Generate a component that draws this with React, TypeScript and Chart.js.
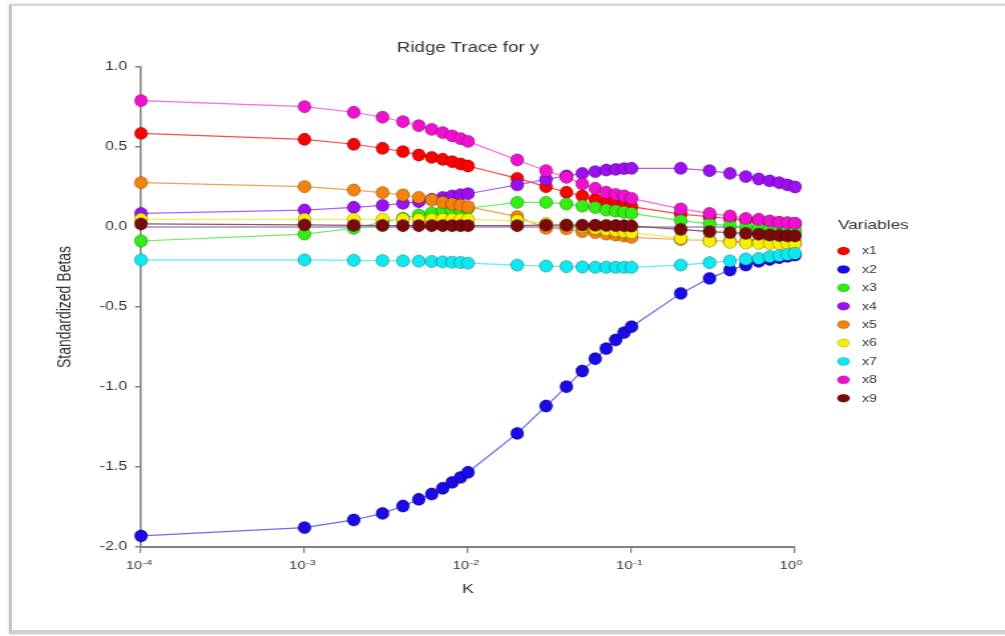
import React, { useEffect, useRef } from "react";
import { Chart, registerables } from "chart.js";

Chart.register(...registerables);

// ---------- data ----------
const kValues = [
  0.0001,
  0.001, 0.002, 0.003, 0.004, 0.005, 0.006, 0.007, 0.008, 0.009,
  0.01, 0.02, 0.03, 0.04, 0.05, 0.06, 0.07, 0.08, 0.09,
  0.1, 0.2, 0.3, 0.4, 0.5, 0.6, 0.7, 0.8, 0.9,
  1.0,
];

const seriesNames = ["x1", "x2", "x3", "x4", "x5", "x6", "x7", "x8", "x9"];

const x1 = [0.585, 0.548, 0.517, 0.492, 0.471, 0.45, 0.435, 0.423, 0.408, 0.394, 0.381, 0.304, 0.252, 0.217, 0.194, 0.173, 0.158, 0.148, 0.138, 0.127, 0.081, 0.064, 0.052, 0.043, 0.037, 0.032, 0.028, 0.024, 0.021];
const x2 = [-1.931, -1.879, -1.831, -1.79, -1.744, -1.702, -1.669, -1.633, -1.596, -1.565, -1.533, -1.29, -1.119, -0.998, -0.9, -0.823, -0.76, -0.706, -0.66, -0.623, -0.415, -0.321, -0.269, -0.238, -0.215, -0.203, -0.192, -0.183, -0.175];
const x3 = [-0.0875, -0.044, -0.008, 0.03, 0.055, 0.075, 0.088, 0.098, 0.106, 0.112, 0.117, 0.154, 0.154, 0.144, 0.131, 0.121, 0.106, 0.1, 0.092, 0.085, 0.04, 0.019, 0.008, -0.002, -0.008, -0.011, -0.014, -0.017, -0.02];
const x4 = [0.085, 0.106, 0.123, 0.135, 0.148, 0.158, 0.173, 0.185, 0.194, 0.202, 0.208, 0.263, 0.298, 0.319, 0.335, 0.346, 0.356, 0.36, 0.365, 0.367, 0.367, 0.352, 0.335, 0.315, 0.3, 0.288, 0.277, 0.263, 0.25];
const x5 = [0.277, 0.252, 0.231, 0.215, 0.2, 0.185, 0.169, 0.154, 0.144, 0.136, 0.127, 0.065, -0.008, -0.012, -0.029, -0.035, -0.044, -0.05, -0.056, -0.065, -0.078, -0.085, -0.09, -0.093, -0.095, -0.097, -0.098, -0.099, -0.1];
const x6 = [0.048, 0.048, 0.048, 0.048, 0.048, 0.047, 0.047, 0.047, 0.047, 0.046, 0.046, 0.04, 0.023, 0.012, 0.002, -0.008, -0.017, -0.023, -0.029, -0.035, -0.071, -0.088, -0.096, -0.1, -0.102, -0.103, -0.104, -0.104, -0.105];
const x7 = [-0.206, -0.206, -0.208, -0.21, -0.212, -0.214, -0.216, -0.218, -0.22, -0.222, -0.226, -0.238, -0.244, -0.248, -0.25, -0.252, -0.252, -0.252, -0.252, -0.252, -0.238, -0.223, -0.212, -0.2, -0.196, -0.185, -0.179, -0.171, -0.165];
const x8 = [0.79, 0.752, 0.717, 0.686, 0.658, 0.633, 0.61, 0.59, 0.569, 0.552, 0.535, 0.419, 0.352, 0.31, 0.269, 0.242, 0.217, 0.204, 0.194, 0.179, 0.113, 0.085, 0.069, 0.054, 0.048, 0.038, 0.029, 0.027, 0.023];
const x9 = [0.019, 0.013, 0.01, 0.009, 0.008, 0.008, 0.008, 0.008, 0.008, 0.008, 0.008, 0.008, 0.012, 0.012, 0.012, 0.011, 0.01, 0.009, 0.008, 0.006, -0.015, -0.029, -0.035, -0.04, -0.045, -0.05, -0.053, -0.055, -0.056];

const seriesValues = [x1, x2, x3, x4, x5, x6, x7, x8, x9];

const pointColors = ["#ff0000", "#1a0ae6", "#33ee11", "#9a10f0", "#f5820a", "#f8f000", "#10e8f0", "#f010d0", "#7a0a0a"];
const lineColors = ["#ff4a4a", "#6a6af5", "#66f055", "#b35cf5", "#f7a050", "#f5ee55", "#60f0f5", "#ff66f0", "#a05050"];

const zeroLineK = [0.0001, 1.0];
const zeroLineValues = [0, 0];

const xTickValues = [0.0001, 0.001, 0.01, 0.1, 1];
const xTickBase = "10";
const xTickExponents = ["-4", "-3", "-2", "-1", "0"];

const yMin = -2.0;
const yMax = 1.0;
const yStep = 0.5;

const chartTitle = "Ridge Trace for y";
const xTitle = "K";
const yTitle = "Standardized Betas";
const legendTitle = "Variables";

const FONT = "'Liberation Sans', Arial, Helvetica, sans-serif";
const TEXT = "#333333";
const AXIS = "#808080";

// The original picture is horizontally stretched; the canvas is drawn narrower and
// widened by CSS to reproduce that look.
const PAGE_W = 1005;
const PAGE_H = 636;
const CANVAS_W = 756;
const SX = PAGE_W / CANVAS_W;

const DOT_RX = 6.5 / SX;
const DOT_RY = 6.2;

// ---------- plugins ----------
const dotsPlugin = {
  id: "ellipseDots",
  afterDatasetsDraw(chart: any) {
    const ctx = chart.ctx;
    ctx.save();
    seriesNames.forEach((_, i) => {
      const meta = chart.getDatasetMeta(i);
      meta.data.forEach((pt: any) => {
        ctx.beginPath();
        ctx.ellipse(pt.x, pt.y, DOT_RX, DOT_RY, 0, 0, Math.PI * 2);
        ctx.fillStyle = pointColors[i];
        ctx.fill();
        ctx.lineWidth = 0.8;
        ctx.strokeStyle = "rgba(0,0,0,0.3)";
        ctx.stroke();
      });
    });
    ctx.restore();
  },
};

const xTickLabelPlugin = {
  id: "xTickLabels",
  afterDraw(chart: any) {
    const xs = chart.scales.x;
    const ctx = chart.ctx;
    ctx.save();
    ctx.fillStyle = TEXT;
    ctx.textBaseline = "middle";
    xTickValues.forEach((v, i) => {
      const px = xs.getPixelForValue(v);
      const y = xs.top + 19;
      ctx.font = `11px ${FONT}`;
      ctx.textAlign = "right";
      ctx.fillText(xTickBase, px + 0.8, y);
      ctx.font = `8px ${FONT}`;
      ctx.textAlign = "left";
      ctx.fillText(xTickExponents[i], px + 1.2, y - 3.5);
    });
    ctx.restore();
  },
};

const legendPlugin = {
  id: "sideLegend",
  afterDraw(chart: any) {
    const ctx = chart.ctx;
    const left = 838 / SX;
    ctx.save();
    ctx.fillStyle = TEXT;
    ctx.textBaseline = "middle";
    ctx.textAlign = "left";
    ctx.font = `13px ${FONT}`;
    ctx.fillText(legendTitle, left, 225);
    seriesNames.forEach((name, i) => {
      const cy = 251 + i * 18.4;
      ctx.beginPath();
      ctx.ellipse(843.5 / SX, cy, 6.2 / SX, 4.0, 0, 0, Math.PI * 2);
      ctx.fillStyle = pointColors[i];
      ctx.fill();
      ctx.strokeStyle = "rgba(0,0,0,0.25)";
      ctx.lineWidth = 0.7;
      ctx.stroke();
      ctx.fillStyle = TEXT;
      ctx.font = `10.5px ${FONT}`;
      ctx.fillText(name, 862 / SX, cy + 0.5);
    });
    ctx.restore();
  },
};

export default function App() {
  const canvasRef = useRef<HTMLCanvasElement | null>(null);

  useEffect(() => {
    const canvas = canvasRef.current;
    if (!canvas) return;

    const datasets: any[] = seriesNames.map((name, i) => ({
      label: name,
      data: kValues.map((k, j) => ({ x: k, y: seriesValues[i][j] })),
      borderColor: lineColors[i],
      borderWidth: 1.2,
      backgroundColor: pointColors[i],
      pointRadius: 0,
      pointHoverRadius: 0,
      tension: 0,
      fill: false,
      clip: false,
      order: 20 - i,
    }));
    datasets.push({
      label: "zero",
      data: zeroLineK.map((k, j) => ({ x: k, y: zeroLineValues[j] })),
      borderColor: "#5a5ad0",
      borderWidth: 1,
      pointRadius: 0,
      fill: false,
      clip: false,
      order: 100,
    });

    const chartLeft = 141 / SX;
    const chartRight = 795 / SX;

    const chart = new Chart(canvas, {
      type: "line",
      data: { datasets },
      options: {
        animation: false,
        responsive: false,
        devicePixelRatio: 1,
        layout: { padding: { left: 0, top: 0, right: CANVAS_W - chartRight, bottom: 0 } },
        plugins: {
          legend: { display: false },
          tooltip: { enabled: false },
          title: {
            display: true,
            text: chartTitle,
            fullSize: false,
            color: TEXT,
            font: { family: FONT, size: 14, weight: "normal" },
            padding: { top: 39.6, bottom: 10.6 },
          },
        },
        scales: {
          x: {
            type: "logarithmic",
            min: 0.0001,
            max: 1,
            afterBuildTicks: (scale: any) => {
              scale.ticks = xTickValues.map((v) => ({ value: v }));
            },
            afterFit: (scale: any) => {
              scale.height = 89;
            },
            ticks: { display: false },
            grid: {
              display: true,
              drawOnChartArea: false,
              drawTicks: true,
              tickLength: 6,
              color: AXIS,
              lineWidth: 1.2,
            },
            border: { display: true, color: AXIS, width: 2 },
            title: {
              display: true,
              text: xTitle,
              color: TEXT,
              font: { family: FONT, size: 13.5 },
              padding: { top: 0, bottom: 38.9 },
            },
          },
          y: {
            type: "linear",
            min: yMin,
            max: yMax,
            afterFit: (scale: any) => {
              scale.width = chartLeft;
            },
            ticks: {
              stepSize: yStep,
              color: TEXT,
              font: { family: FONT, size: 12 },
              padding: 6,
              callback: (v: any) => Number(v).toFixed(1),
            },
            grid: {
              display: true,
              drawOnChartArea: false,
              drawTicks: true,
              tickLength: 4.5,
              color: AXIS,
              lineWidth: 1.5,
            },
            border: { display: true, color: AXIS, width: 1.5 },
            title: {
              display: true,
              text: yTitle,
              color: TEXT,
              font: { family: FONT, size: 14 },
              padding: { top: 65 / SX - 8.4, bottom: 0 },
            },
          },
        },
      } as any,
      plugins: [dotsPlugin, xTickLabelPlugin, legendPlugin],
    });

    return () => chart.destroy();
  }, []);

  return (
    <div style={{ position: "fixed", left: 0, top: 0, width: PAGE_W, height: PAGE_H, background: "#ffffff", overflow: "hidden" }}>
      <div
        style={{
          position: "absolute",
          left: 9,
          top: 4,
          width: 1020,
          height: 624,
          background: "#ffffff",
          borderLeft: "3px solid #c4c4c4",
          borderTop: "2px solid #d6d6d6",
          borderBottom: "4px solid #cfcfcf",
          boxShadow: "0 0 3px rgba(0,0,0,0.18)",
        }}
      />
      <canvas
        ref={canvasRef}
        width={CANVAS_W}
        height={PAGE_H}
        style={{ position: "absolute", left: 0, top: 0, width: PAGE_W, height: PAGE_H }}
      />
    </div>
  );
}
